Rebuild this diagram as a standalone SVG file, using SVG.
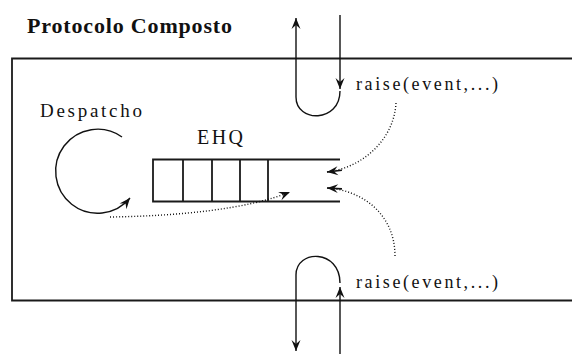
<svg xmlns="http://www.w3.org/2000/svg" width="572" height="354" viewBox="0 0 572 354">
  <style>
    .frame { fill: none; stroke: #1a1a1a; stroke-width: 1.8; }
    .line { fill: none; stroke: #111; stroke-width: 1.4; }
    .dot { fill: none; stroke: #111; stroke-width: 1.4; stroke-dasharray: 1 2; }
    .lbl { font-family: "Liberation Serif", "Times New Roman", serif; fill: #111; }
    .title { font-family: "Liberation Serif", "Times New Roman", serif; font-weight: bold; fill: #111; }
  </style>
  <defs>
    <marker id="head" markerUnits="userSpaceOnUse" markerWidth="16" markerHeight="12" viewBox="-12 -6 16 12" refX="0" refY="0" orient="auto" overflow="visible">
      <path d="M0,0 L-11,-4.5 L-7,0 L-11,4.5 Z" fill="#111"/>
    </marker>
    <marker id="head-shaft" markerUnits="userSpaceOnUse" markerWidth="20" markerHeight="12" viewBox="-16 -6 20 12" refX="0" refY="0" orient="auto" overflow="visible">
      <path d="M0,0 L-11,-4.5 L-7,0 L-11,4.5 Z" fill="#111"/>
      <path d="M-15,0 L0,0" stroke="#111" stroke-width="1.6"/>
    </marker>
  </defs>

  <!-- heading -->
  <g id="title">
    <text class="title" x="27" y="33" font-size="22" textLength="205" lengthAdjust="spacing">Protocolo Composto</text>
  </g>

  <!-- composite protocol boundary (open on the right) -->
  <g id="protocol">
    <path class="frame" d="M572,58.5 H12 V300.5 H572"/>
  </g>

  <!-- dispatcher loop -->
  <g id="despatcho">
    <text class="lbl" x="40" y="117" font-size="19" textLength="102" lengthAdjust="spacing">Despatcho</text>
    <path class="line" d="M122,137 A42,42 0 1 0 130,198" marker-end="url(#head)"/>
  </g>

  <!-- event handler queue -->
  <g id="ehq">
    <text class="lbl" x="197" y="144" font-size="20" textLength="46" lengthAdjust="spacing">EHQ</text>
    <path class="frame" d="M340,159.5 H153 V201.5 H340 M183,159.5 V201.5 M212,159.5 V201.5 M240,159.5 V201.5 M268,159.5 V201.5" stroke-width="1.6"/>
  </g>

  <!-- upper raise: event enters and returns through the top edge -->
  <g id="raise-top">
    <text class="lbl" x="356" y="90" font-size="18" textLength="142" lengthAdjust="spacing">raise(event,...)</text>
  </g>

  <!-- lower raise: event enters and returns through the bottom edge -->
  <g id="raise-bottom">
    <text class="lbl" x="356" y="288" font-size="18" textLength="142" lengthAdjust="spacing">raise(event,...)</text>
  </g>

  <g id="connectors">
    <!-- upper loop -->
    <path class="line" d="M340,15 V89" marker-end="url(#head)"/>
    <path class="line" d="M340,91 C340,123 296,123 296,97 V18" marker-end="url(#head)"/>
    <!-- lower loop -->
    <path class="line" d="M340,354 V287" marker-end="url(#head)"/>
    <path class="line" d="M340,283 C340,249 296,249 296,275 V351" marker-end="url(#head)"/>
    <!-- dispatcher to queue -->
    <path class="dot" d="M110,217 C180,216 248,209 290,192" marker-end="url(#head)"/>
    <!-- raised events into the queue -->
    <path class="dot" d="M396,103 C394,140 362,168 327,172" marker-end="url(#head-shaft)"/>
    <path class="dot" d="M395,256 C395,214 362,190 327,188" marker-end="url(#head-shaft)"/>
  </g>
</svg>
